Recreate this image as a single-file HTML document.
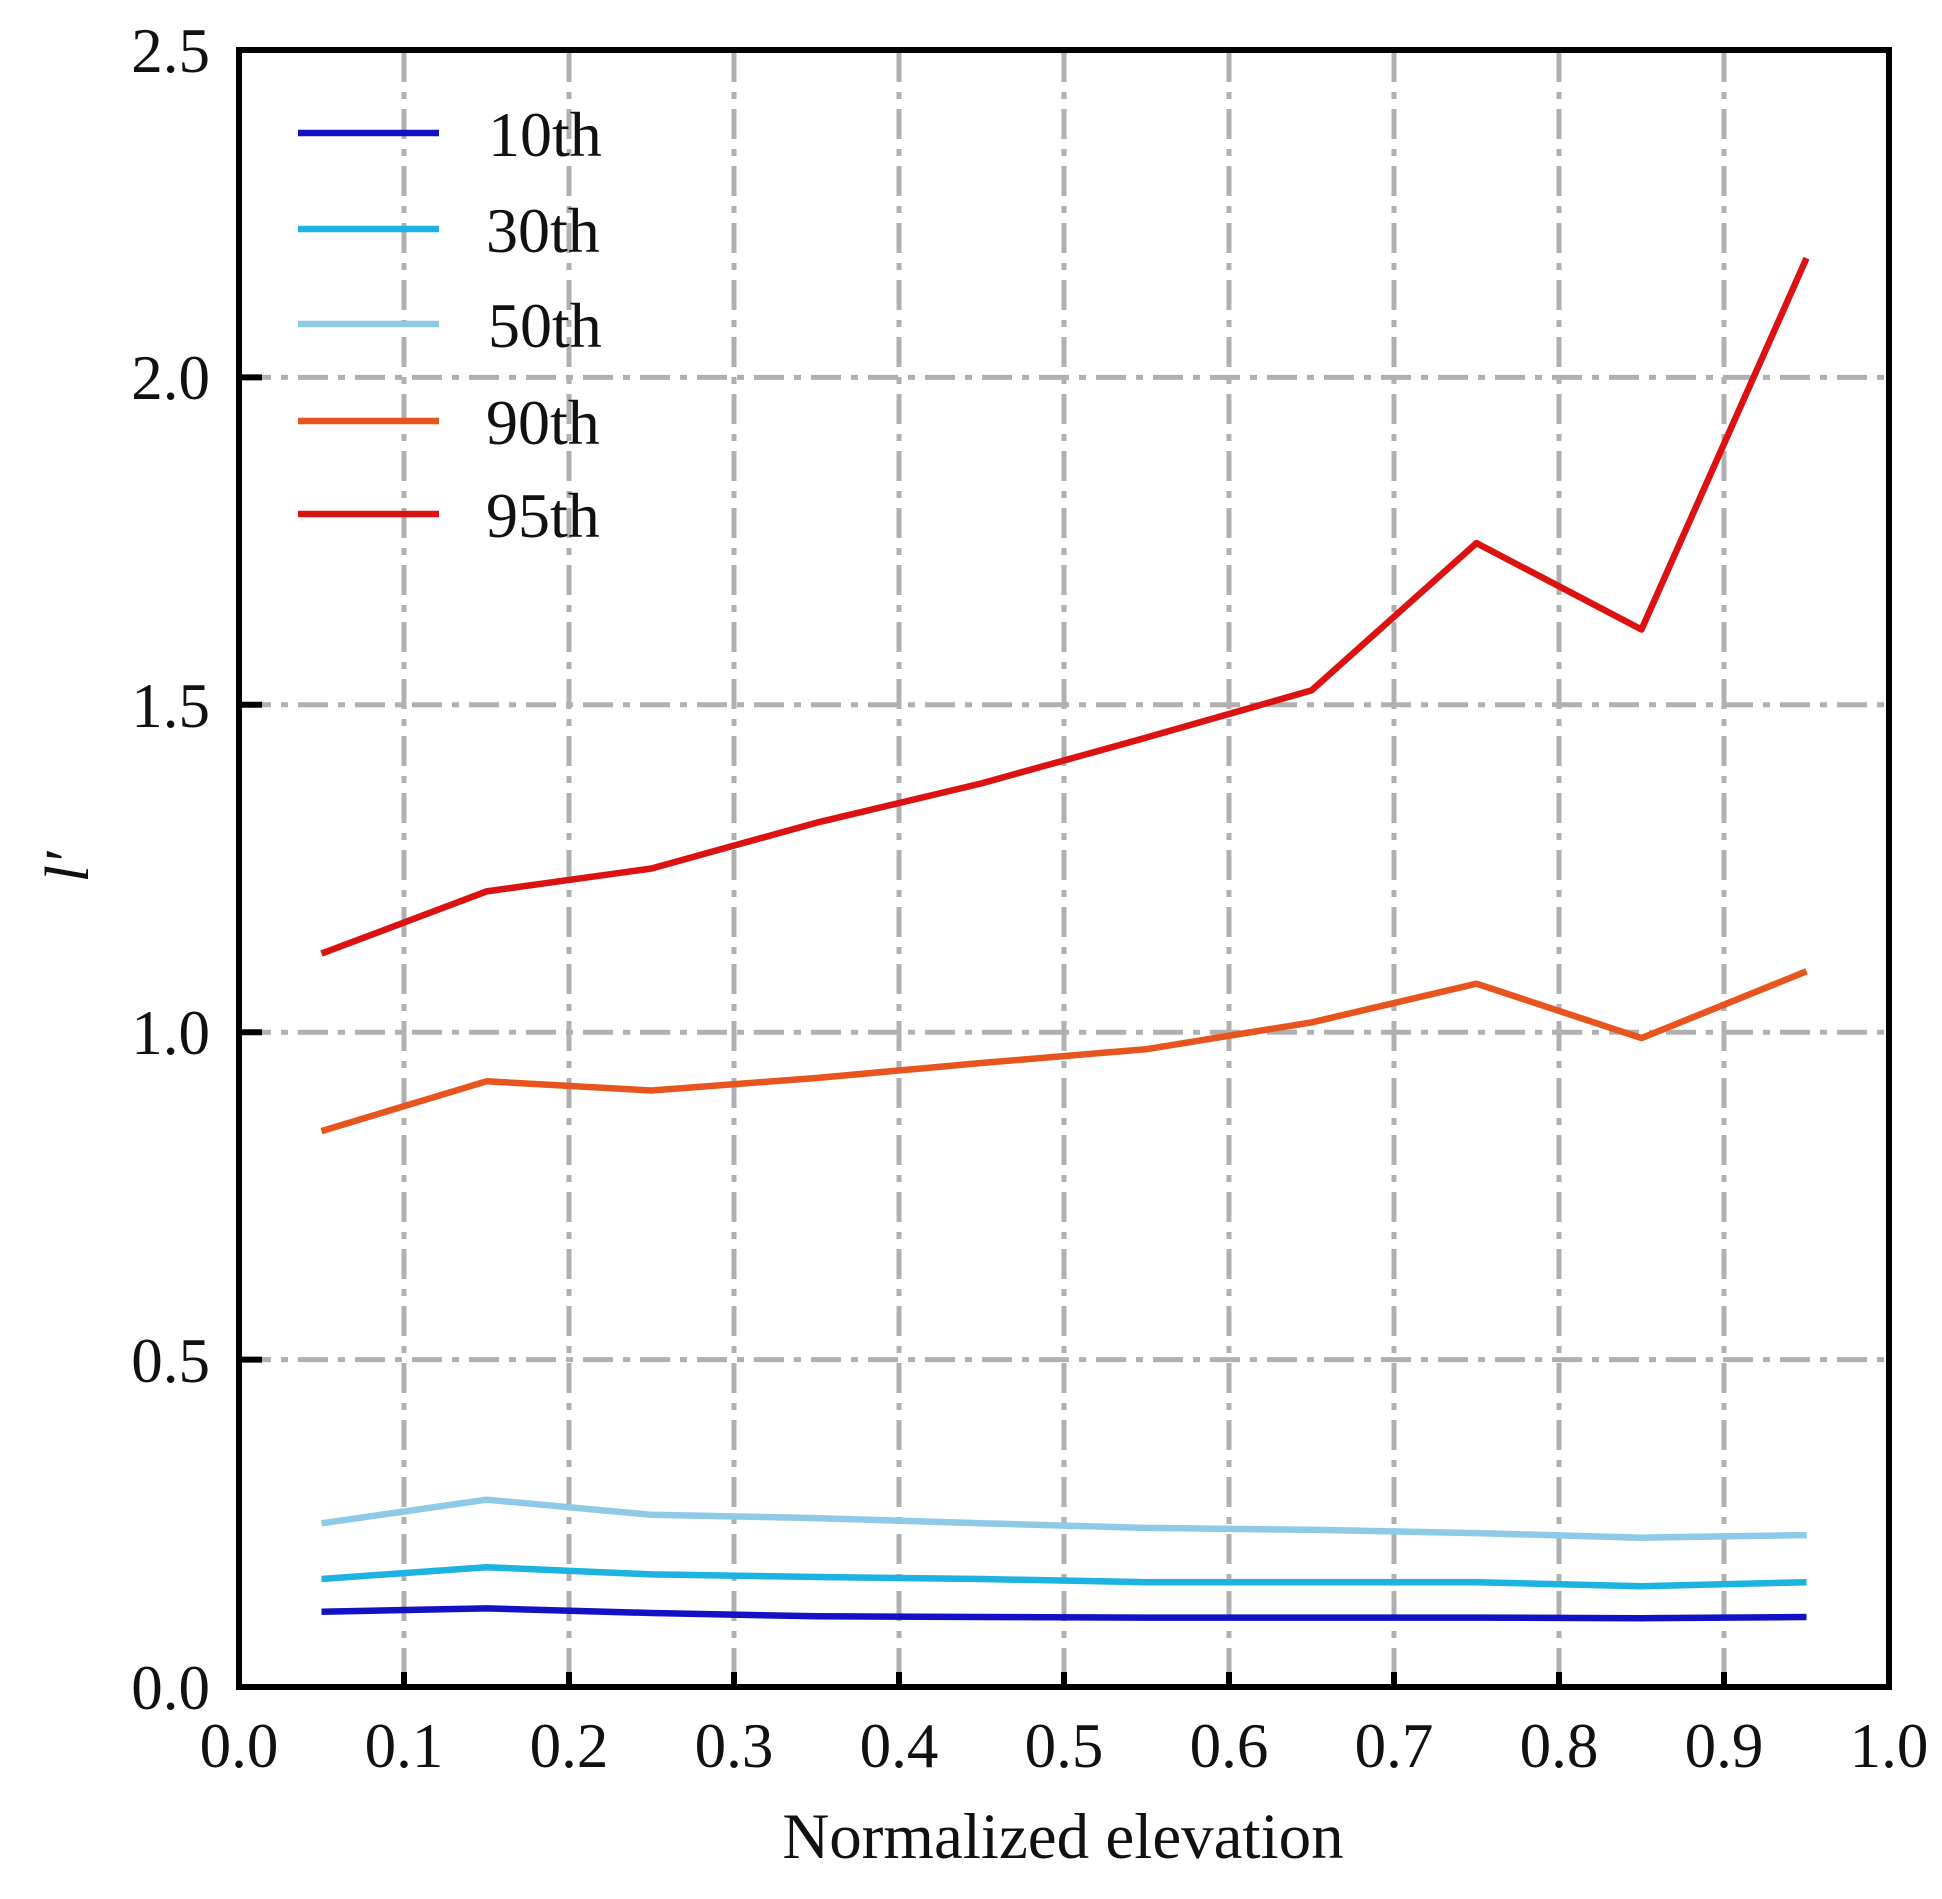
<!DOCTYPE html>
<html><head><meta charset="utf-8"><style>
html,body{margin:0;padding:0;background:#fff;}
svg text{font-family:"Liberation Serif",serif;fill:#111;}
</style></head><body>
<svg width="1942" height="1894" viewBox="0 0 1942 1894" xmlns="http://www.w3.org/2000/svg">
<rect width="1942" height="1894" fill="#fff"/>
<g stroke="#b0b0b0" stroke-width="5" stroke-dasharray="30 10 7 10" fill="none">
<line x1="404" y1="52" x2="404" y2="1685"/><line x1="569" y1="52" x2="569" y2="1685"/>
<line x1="734" y1="52" x2="734" y2="1685"/><line x1="899" y1="52" x2="899" y2="1685"/>
<line x1="1064" y1="52" x2="1064" y2="1685"/><line x1="1229" y1="52" x2="1229" y2="1685"/>
<line x1="1394" y1="52" x2="1394" y2="1685"/><line x1="1559" y1="52" x2="1559" y2="1685"/>
<line x1="1724" y1="52" x2="1724" y2="1685"/>
<line x1="241" y1="1359.6" x2="1887" y2="1359.6"/><line x1="241" y1="1032.2" x2="1887" y2="1032.2"/>
<line x1="241" y1="704.8" x2="1887" y2="704.8"/><line x1="241" y1="377.4" x2="1887" y2="377.4"/>
</g>
<g fill="none" stroke-width="6.5" stroke-linejoin="round">
<polyline stroke="#1212c4" points="321.5,1611.7 486.5,1608.4 651.5,1613 816.5,1616.3 981.5,1617 1146.5,1617.6 1311.5,1617.6 1476.5,1617.6 1641.5,1618.2 1806.5,1617"/>
<polyline stroke="#1cb2e2" points="321.5,1579 486.5,1567.2 651.5,1574.4 816.5,1577 981.5,1579 1146.5,1582.2 1311.5,1582.2 1476.5,1582.2 1641.5,1586.2 1806.5,1582.2"/>
<polyline stroke="#8ecae6" points="321.5,1523.3 486.5,1499.7 651.5,1514.8 816.5,1518.1 981.5,1523.3 1146.5,1527.9 1311.5,1529.8 1476.5,1533.1 1641.5,1537.7 1806.5,1535.1"/>
<polyline stroke="#e8541e" points="321.5,1131.1 486.5,1081.3 651.5,1090.5 816.5,1078 981.5,1063 1146.5,1049.2 1311.5,1022.4 1476.5,983.7 1641.5,1038.1 1806.5,971.3"/>
<polyline stroke="#dc1212" points="321.5,953.6 486.5,891.4 651.5,868.5 816.5,822.7 981.5,783.4 1146.5,737.5 1311.5,690.4 1476.5,543.1 1641.5,629.5 1806.5,258.2"/>
</g>
<g stroke="#000" stroke-width="6">
<line x1="404" y1="1687" x2="404" y2="1672"/><line x1="569" y1="1687" x2="569" y2="1672"/>
<line x1="734" y1="1687" x2="734" y2="1672"/><line x1="899" y1="1687" x2="899" y2="1672"/>
<line x1="1064" y1="1687" x2="1064" y2="1672"/><line x1="1229" y1="1687" x2="1229" y2="1672"/>
<line x1="1394" y1="1687" x2="1394" y2="1672"/><line x1="1559" y1="1687" x2="1559" y2="1672"/>
<line x1="1724" y1="1687" x2="1724" y2="1672"/>
<line x1="239" y1="1359.6" x2="262" y2="1359.6"/><line x1="239" y1="1032.2" x2="262" y2="1032.2"/>
<line x1="239" y1="704.8" x2="262" y2="704.8"/><line x1="239" y1="377.4" x2="262" y2="377.4"/>
</g>
<rect x="239" y="50" width="1650" height="1637" fill="none" stroke="#000" stroke-width="6"/>
<g font-size="63" text-anchor="end">
<text x="210" y="1709">0.0</text><text x="210" y="1382">0.5</text><text x="210" y="1054">1.0</text>
<text x="210" y="727">1.5</text><text x="210" y="399">2.0</text><text x="210" y="72">2.5</text>
</g>
<g font-size="63" text-anchor="middle">
<text x="239" y="1767">0.0</text><text x="404" y="1767">0.1</text><text x="569" y="1767">0.2</text>
<text x="734" y="1767">0.3</text><text x="899" y="1767">0.4</text><text x="1064" y="1767">0.5</text>
<text x="1229" y="1767">0.6</text><text x="1394" y="1767">0.7</text><text x="1559" y="1767">0.8</text>
<text x="1724" y="1767">0.9</text><text x="1889" y="1767">1.0</text>
</g>
<text x="1063" y="1858" font-size="65" text-anchor="middle">Normalized elevation</text>
<text transform="translate(88,867) rotate(-90)" font-size="62" font-style="italic" text-anchor="middle">l′</text>
<g stroke-width="6.5">
<line x1="298" y1="133" x2="439" y2="133" stroke="#1212c4"/>
<line x1="298" y1="229" x2="439" y2="229" stroke="#1cb2e2"/>
<line x1="298" y1="324" x2="439" y2="324" stroke="#8ecae6"/>
<line x1="298" y1="421" x2="439" y2="421" stroke="#e8541e"/>
<line x1="298" y1="514" x2="439" y2="514" stroke="#dc1212"/>
</g>
<g font-size="64">
<text x="488" y="156">10th</text><text x="486" y="252">30th</text><text x="488" y="347">50th</text>
<text x="486" y="444">90th</text><text x="486" y="537">95th</text>
</g>
</svg>
</body></html>
